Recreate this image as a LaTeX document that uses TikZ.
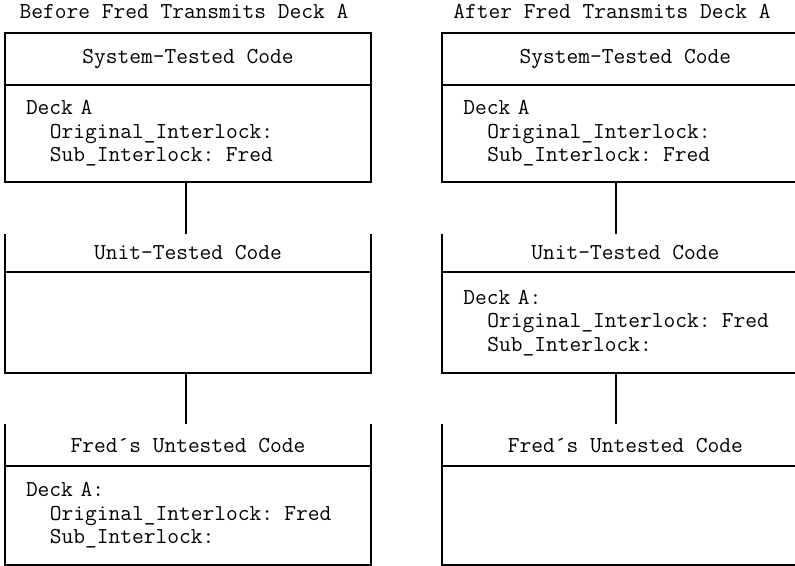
\documentclass[tikz,border=0pt]{standalone}
\usepackage{fontspec}
\usetikzlibrary{positioning}
\newcommand{\indt}{\hspace*{24pt}}

\begin{document}
\begin{tikzpicture}
	[ x=1pt, y=1pt,
	  every node/.style={ font=\ttfamily\fontsize{22.8}{23.5}\selectfont },
	  hd/.style={ draw=none, minimum width=366pt, inner sep=0pt },
	  bd/.style={ draw=none, minimum width=366pt, text width=324pt,
	  inner xsep=21pt, inner ysep=0pt, align=left },
	  ttl/.style={ anchor=base, inner sep=0pt },
	  box/.style={ line width=2pt }
	]
	\useasboundingbox (0,0) rectangle (795,-565);
	\clip (0,0) rectangle (795,-565);

	% before
	\node[ttl] (lt) at (184,-18) {Before Fred Transmits Deck A};
	\node[hd, minimum height=52pt] (l1h) at (188,-59) {System-Tested Code};
	\node[bd, minimum height=96pt, below=0pt of l1h] (l1b)
		{Deck A\\\indt Original\_Interlock:\\\indt Sub\_Interlock: Fred};
	\node[hd, minimum height=38pt, below=52pt of l1b] (l2h) {Unit-Tested Code};
	\node[bd, minimum height=101pt, below=0pt of l2h] (l2b) {};
	\node[hd, minimum height=41pt, below=51pt of l2b] (l3h) {Fred´s Untested Code};
	\node[bd, minimum height=99pt, below=0pt of l3h] (l3b)
		{Deck A:\\\indt Original\_Interlock: Fred\\\indt Sub\_Interlock:};

	% after
	\node[ttl] (rt) at (612,-18) {After Fred Transmits Deck A};
	\node[hd, minimum height=52pt, right=71pt of l1h] (r1h) {System-Tested Code};
	\node[bd, minimum height=96pt, below=0pt of r1h] (r1b)
		{Deck A\\\indt Original\_Interlock:\\\indt Sub\_Interlock: Fred};
	\node[hd, minimum height=38pt, below=52pt of r1b] (r2h) {Unit-Tested Code};
	\node[bd, minimum height=101pt, below=0pt of r2h] (r2b)
		{Deck A:\\\indt Original\_Interlock: Fred\\\indt Sub\_Interlock:};
	\node[hd, minimum height=41pt, below=51pt of r2b] (r3h) {Fred´s Untested Code};
	\node[bd, minimum height=99pt, below=0pt of r3h] (r3b) {};

	\foreach \c in {l,r}{
		\draw[box] (\c1h.north west) rectangle (\c1b.south east);
		\draw[box] (\c1h.south west) -- (\c1h.south east);
		\foreach \d in {2,3}{
			\draw[box] (\c\d h.north west) |- (\c\d b.south east) -- (\c\d h.north east);
			\draw[box] (\c\d b.north west) -- (\c\d b.north east);
		}
	}
	\draw[box] ([xshift=-2pt]l1b.south) -- ([xshift=-2pt]l2h.north);
	\draw[box] ([xshift=-2pt]l2b.south) -- ([xshift=-2pt]l3h.north);
	\draw[box] ([xshift=-9pt]r1b.south) -- ([xshift=-9pt]r2h.north);
	\draw[box] ([xshift=-9pt]r2b.south) -- ([xshift=-9pt]r3h.north);
\end{tikzpicture}
\end{document}
